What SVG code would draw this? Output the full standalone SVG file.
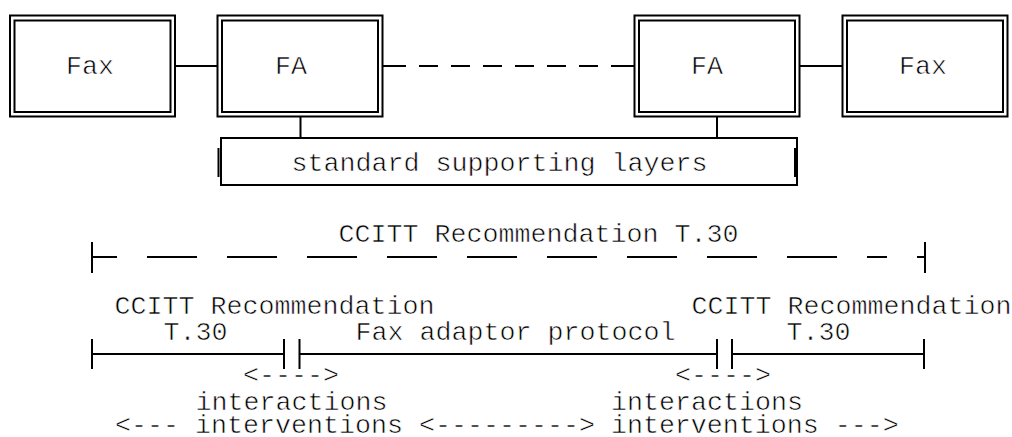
<svg xmlns="http://www.w3.org/2000/svg" width="1012" height="437" viewBox="0 0 1012 437">
<style>
  .t { font-family: "Liberation Mono", "Courier New", monospace; font-size: 26.67px; fill: #000; stroke: #fff; stroke-width: 0.6px; }
  .ln { stroke: #000; stroke-width: 2; fill: none; }
  .box { stroke: #000; stroke-width: 2; fill: #fff; }
</style>
<rect width="1012" height="437" fill="#fff"/>
<g id="connectors" class="ln">
  <path d="M175 66 H217.5"/>
  <path d="M382.5 66 H406 M419 66 H438 M451 66 H470 M483 66 H502 M515 66 H534 M547 66 H566 M579 66 H598 M611 66 H634.5"/>
  <path d="M799.5 66 H842.5"/>
  <path d="M300.5 116.5 V138"/>
  <path d="M717 116.5 V138"/>
</g>
<g id="fax-left">
  <rect class="box" x="10" y="15.5" width="165" height="101"/>
  <rect class="box" x="14.5" y="20.5" width="156" height="91.5"/>
  <text class="t" x="66" y="74">Fax</text>
</g>
<g id="fa-left">
  <rect class="box" x="217.5" y="15.5" width="165" height="101"/>
  <rect class="box" x="222" y="20.5" width="156" height="91.5"/>
  <text class="t" x="275" y="74">FA</text>
</g>
<g id="fa-right">
  <rect class="box" x="634.5" y="15.5" width="165" height="101"/>
  <rect class="box" x="639" y="20.5" width="156" height="91.5"/>
  <text class="t" x="691" y="74">FA</text>
</g>
<g id="fax-right">
  <rect class="box" x="842.5" y="15.5" width="165" height="101"/>
  <rect class="box" x="847" y="20.5" width="156" height="91.5"/>
  <text class="t" x="899" y="74">Fax</text>
</g>
<g id="layers">
  <rect class="box" x="221" y="138" width="576" height="47"/>
  <path class="ln" d="M218.5 148 V177 M795 148 V177"/>
  <text class="t" x="291.5" y="171">standard supporting layers</text>
</g>
<g id="t30-span">
  <text class="t" x="338.5" y="242">CCITT Recommendation T.30</text>
  <path class="ln" d="M92 242 V273 M92 257 H117 M147 257 H197 M227 257 H277 M307 257 H357 M387 257 H437 M467 257 H517 M547 257 H597 M627 257 H677 M707 257 H757 M787 257 H837 M867 257 H887 M917 257 H925 M925 242 V273"/>
</g>
<g id="protocol-span">
  <text class="t" x="114.5" y="314">CCITT Recommendation</text>
  <text class="t" x="163.5" y="340">T.30</text>
  <text class="t" x="355.5" y="340">Fax adaptor protocol</text>
  <text class="t" x="691.5" y="314">CCITT Recommendation</text>
  <text class="t" x="786.5" y="340">T.30</text>
  <path class="ln" d="M92 339 V369 M92 354 H284 M284 339 V369 M299.5 339 V369 M299.5 354 H717 M717 339 V369 M732 339 V369 M732 354 H924 M924 339 V369"/>
  <text class="t" x="243" y="383">&lt;----&gt;</text>
  <text class="t" x="675" y="383">&lt;----&gt;</text>
  <text class="t" x="195.5" y="410">interactions</text>
  <text class="t" x="611" y="410">interactions</text>
  <text class="t" x="115" y="433">&lt;--- interventions &lt;---------&gt; interventions ---&gt;</text>
</g>
</svg>
